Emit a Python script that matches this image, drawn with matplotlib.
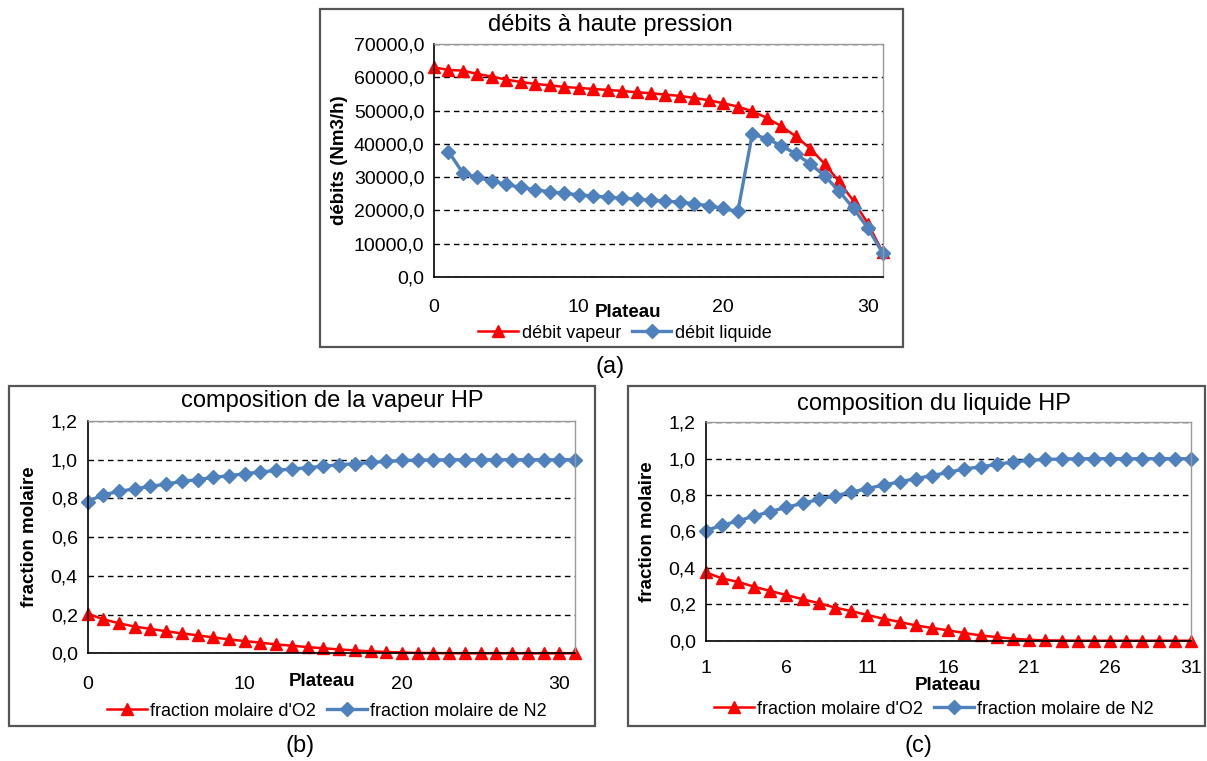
import numpy as np
import matplotlib
matplotlib.use('Agg')
import matplotlib.pyplot as plt
import matplotlib.ticker as mticker
from matplotlib.patches import Rectangle

plt.rcParams['font.family'] = ['Liberation Sans', 'DejaVu Sans']

# données
plateau_vap = np.arange(0, 32)
plateau_liq = np.arange(1, 32)
debit_vapeur = [63000, 62200, 62000, 61000, 60200, 59300, 58600, 58000, 57600, 57100,
                56800, 56500, 56200, 55900, 55500, 55200, 54800, 54400, 53800, 53100,
                52200, 51200, 49800, 47800, 45300, 42300, 38600, 34000, 28700, 22800,
                16000, 7600]
debit_liquide = [37700, 31200, 29900, 28800, 27800, 26900, 26200, 25600, 25100, 24700,
                 24300, 24000, 23700, 23400, 23100, 22800, 22500, 22000, 21400, 20600,
                 19700, 43000, 41500, 39500, 37000, 34000, 30400, 25800, 20600, 14600,
                 7300]

vap_o2 = [0.205, 0.176, 0.155, 0.138, 0.126, 0.114, 0.103, 0.093, 0.082, 0.072,
          0.063, 0.055, 0.046, 0.039, 0.032, 0.026, 0.020, 0.015, 0.010, 0.007,
          0.004, 0.002, 0.001, 0.0005, 0, 0, 0, 0, 0, 0, 0, 0]
vap_n2 = [0.784, 0.819, 0.836, 0.850, 0.862, 0.874, 0.888, 0.897, 0.909, 0.917,
          0.928, 0.936, 0.945, 0.952, 0.959, 0.966, 0.974, 0.979, 0.986, 0.991,
          0.996, 0.998, 0.999, 1.0, 1.0, 1.0, 1.0, 1.0, 1.0, 1.0, 1.0, 1.0]

liq_o2 = [0.376, 0.343, 0.323, 0.297, 0.273, 0.251, 0.228, 0.206, 0.182, 0.163,
          0.141, 0.121, 0.103, 0.084, 0.070, 0.057, 0.042, 0.029, 0.020, 0.011,
          0.005, 0.002, 0.001, 0, 0, 0, 0, 0, 0, 0, 0]
liq_n2 = [0.605, 0.633, 0.658, 0.685, 0.709, 0.733, 0.755, 0.776, 0.796, 0.816,
          0.836, 0.855, 0.873, 0.891, 0.907, 0.925, 0.944, 0.955, 0.969, 0.982,
          0.991, 0.996, 0.998, 1.0, 1.0, 1.0, 1.0, 1.0, 1.0, 1.0, 1.0]

W, H = 1207, 761
RED = '#ff0000'
BLUE = '#4f81bd'
FS = 14


def rect(x0, y0, x1, y1):
    # pixel -> fraction de figure
    return [x0 / W, 1 - y1 / H, (x1 - x0) / W, (y1 - y0) / H]


def virgule(fmt):
    return mticker.FuncFormatter(lambda v, p: (fmt % v).replace('.', ','))


fig = plt.figure(figsize=(W / 100, H / 100), dpi=100)

# cadres des graphiques
for (x0, y0, x1, y1) in [(319.5, 9, 903, 347), (8.7, 386, 595, 725.5), (627.7, 386, 1205, 725.5)]:
    fig.patches.append(Rectangle((x0 / W, 1 - y1 / H), (x1 - x0) / W, (y1 - y0) / H,
                                 transform=fig.transFigure, fill=False,
                                 edgecolor='#555555', linewidth=1.6))


def style(ax, ymax, ystep, fmt):
    ax.set_ylim(0, ymax)
    ax.set_yticks(np.arange(0, ymax + ystep / 2, ystep))
    ax.yaxis.set_major_formatter(virgule(fmt))
    ax.grid(axis='y', color='black', linestyle=(0, (4, 3)), linewidth=1.0)
    ax.set_axisbelow(True)
    for s in ['top', 'right']:
        ax.spines[s].set_color('#999999')
        ax.spines[s].set_linewidth(1.0)
    for s in ['left', 'bottom']:
        ax.spines[s].set_color('black')
        ax.spines[s].set_linewidth(1.2)
    ax.tick_params(length=0, labelsize=FS, pad=7)


# (a) débits
ax = fig.add_axes(rect(434, 44, 882.5, 277))
ax.plot(plateau_vap, debit_vapeur, color=RED, lw=1.8, marker='^', ms=9, label='débit vapeur', clip_on=False)
ax.plot(plateau_liq, debit_liquide, color=BLUE, lw=2.4, marker='D', ms=7, label='débit liquide', clip_on=False)
ax.set_xlim(0, 31)
ax.set_xticks([0, 10, 20, 30])
style(ax, 70000, 10000, '%.1f')
ax.tick_params(axis='x', pad=16)
ax.set_title('débits à haute pression', fontsize=17, pad=9, x=(610 - 434) / (882.5 - 434))
ax.set_ylabel('débits (Nm3/h)', fontsize=13.5, fontweight='bold', labelpad=4)
fig.text(628 / W, 1 - 312 / H, 'Plateau', fontsize=13.5, fontweight='bold', ha='center', va='center')
ax.legend(loc='center', bbox_to_anchor=(625 / W, 1 - 333 / H), bbox_transform=fig.transFigure,
          ncol=2, frameon=False, fontsize=13, handlelength=2.2, handletextpad=0.2,
          columnspacing=0.6, borderpad=0)
fig.text(610 / W, 1 - 367 / H, '(a)', fontsize=17, ha='center', va='center')

# (b) composition de la vapeur
ax = fig.add_axes(rect(87.5, 421, 575, 653.3))
ax.plot(plateau_vap, vap_o2, color=RED, lw=1.8, marker='^', ms=9, label="fraction molaire d'O2", clip_on=False)
ax.plot(plateau_vap, vap_n2, color=BLUE, lw=2.4, marker='D', ms=7, label='fraction molaire de N2', clip_on=False)
ax.set_xlim(0, 31)
ax.set_xticks([0, 10, 20, 30])
style(ax, 1.2, 0.2, '%.1f')
ax.tick_params(axis='x', pad=16)
ax.set_title('composition de la vapeur HP', fontsize=17, pad=10, x=(332 - 87.5) / (575 - 87.5))
ax.set_ylabel('fraction molaire', fontsize=13.5, fontweight='bold', labelpad=9)
fig.text(322 / W, 1 - 682 / H, 'Plateau', fontsize=13.5, fontweight='bold', ha='center', va='center')
ax.legend(loc='center', bbox_to_anchor=(327 / W, 1 - 711 / H), bbox_transform=fig.transFigure,
          ncol=2, frameon=False, fontsize=13, handlelength=2.2, handletextpad=0.2,
          columnspacing=0.6, borderpad=0)
fig.text(300 / W, 1 - 746 / H, '(b)', fontsize=17, ha='center', va='center')

# (c) composition du liquide
ax = fig.add_axes(rect(705.5, 422.3, 1191, 640.7))
ax.plot(plateau_liq, liq_o2, color=RED, lw=1.8, marker='^', ms=9, label="fraction molaire d'O2", clip_on=False)
ax.plot(plateau_liq, liq_n2, color=BLUE, lw=2.4, marker='D', ms=7, label='fraction molaire de N2', clip_on=False)
ax.set_xlim(1, 31)
ax.set_xticks([1, 6, 11, 16, 21, 26, 31])
style(ax, 1.2, 0.2, '%.1f')
ax.tick_params(axis='x', pad=14)
ax.set_title('composition du liquide HP', fontsize=17, pad=9, x=(934 - 705.5) / (1191 - 705.5))
ax.set_ylabel('fraction molaire', fontsize=13.5, fontweight='bold', labelpad=9)
ax.set_xlabel('Plateau', fontsize=13.5, fontweight='bold', labelpad=0)
ax.legend(loc='center', bbox_to_anchor=(934 / W, 1 - 709 / H), bbox_transform=fig.transFigure,
          ncol=2, frameon=False, fontsize=13, handlelength=2.2, handletextpad=0.2,
          columnspacing=0.6, borderpad=0)
fig.text(918 / W, 1 - 746 / H, '(c)', fontsize=17, ha='center', va='center')

fig.savefig('out.png', dpi=100)
